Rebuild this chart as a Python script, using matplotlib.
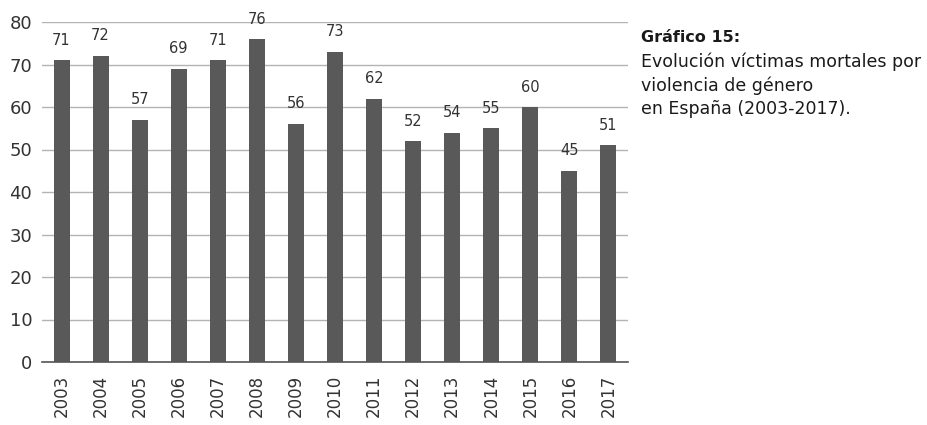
import matplotlib
matplotlib.use("Agg")
import matplotlib.pyplot as plt

years = ["2003", "2004", "2005", "2006", "2007", "2008", "2009", "2010",
         "2011", "2012", "2013", "2014", "2015", "2016", "2017"]
victims = [71, 72, 57, 69, 71, 76, 56, 73, 62, 52, 54, 55, 60, 45, 51]
yticks = [0, 10, 20, 30, 40, 50, 60, 70, 80]

plt.rcParams['font.family'] = ['DejaVu Sans']
fig = plt.figure(figsize=(9.28, 4.25), dpi=100)
ax = fig.add_axes([42/928, 1 - 362/425, (628-42)/928, 340/425])

x = list(range(len(years)))
ax.bar(x, victims, width=0.41, color="#595959", zorder=3)
for xi, v in zip(x, victims):
    ax.annotate(str(v), (xi, v), xytext=(0, 9), textcoords="offset points",
                ha="center", va="bottom", fontsize=10.5, color="#333333", zorder=4)

ax.set_xlim(-0.5, 14.5)
ax.set_ylim(0, 80)
ax.set_yticks(yticks)
ax.set_yticklabels([str(t) for t in yticks], fontsize=13, color="#333333")
ax.set_xticks(x)
ax.set_xticklabels(years, rotation=90, fontsize=12, color="#333333")
ax.tick_params(axis="both", length=0)
ax.tick_params(axis="x", pad=9)
ax.tick_params(axis="y", pad=7)
ax.grid(axis="y", color="#b3b3b3", linewidth=1.0, zorder=0)
for s in ["top", "right", "left"]:
    ax.spines[s].set_visible(False)
ax.spines["bottom"].set_color("#555555")
ax.spines["bottom"].set_linewidth(1.2)
ax.spines["bottom"].set_zorder(5)

fig.text(641/928, 1 - 38/425, "Gráfico 15:", fontsize=11.5, fontweight="bold",
         color="#1a1a1a", va="center", ha="left")
fig.text(641/928, 1 - 62/425, "Evolución víctimas mortales por", fontsize=12.5,
         color="#1a1a1a", va="center", ha="left")
fig.text(641/928, 1 - 86/425, "violencia de género", fontsize=12.5,
         color="#1a1a1a", va="center", ha="left")
fig.text(641/928, 1 - 109/425, "en España (2003-2017).", fontsize=12.5,
         color="#1a1a1a", va="center", ha="left")

fig.savefig("out.png", dpi=100, facecolor="white")
